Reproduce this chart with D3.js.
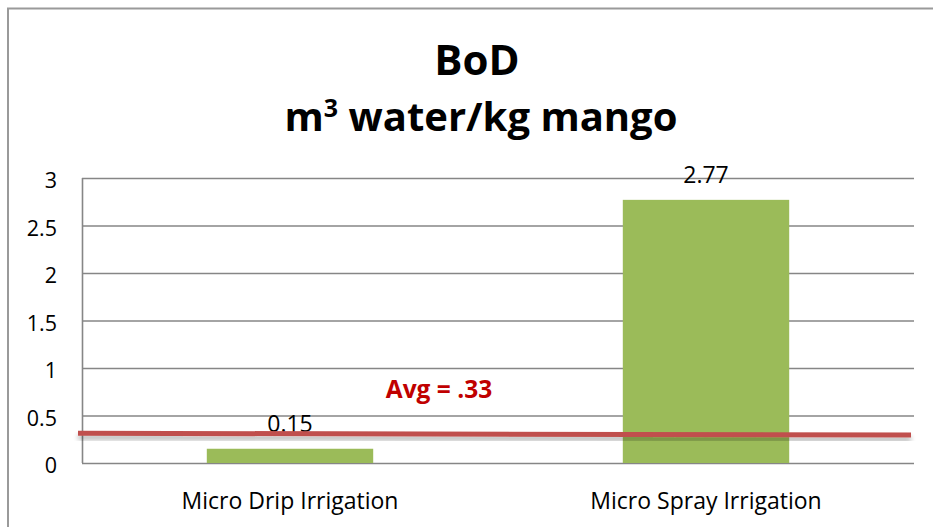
<!DOCTYPE html>
<html>
<head>
<meta charset="utf-8">
<script src="https://cdn.jsdelivr.net/npm/d3@7"></script>
<style>
  html, body { margin: 0; padding: 0; background: #fff; }
  svg { display: block; font-family: "Open Sans", "Liberation Sans", sans-serif; }
</style>
</head>
<body>
<svg id="chart" width="933" height="527"></svg>
<script>
// ---- data ----
const categories = ["Micro Drip Irrigation", "Micro Spray Irrigation"];
const values = [0.15, 2.77];
const valueLabels = ["0.15", "2.77"];
const yTicks = [0, 0.5, 1, 1.5, 2, 2.5, 3];
const yTickLabels = ["0", "0.5", "1", "1.5", "2", "2.5", "3"];
const avgLabel = "Avg = .33";
const avgLineValues = [0.313, 0.295]; // hand-drawn line: left end, right end
const titleLines = ["BoD", "water/kg mango"];

// ---- layout ----
const W = 933, H = 527;
const plot = { left: 82, right: 914, top: 178, bottom: 463 };

const svg = d3.select("#chart");

const x = d3.scaleBand()
  .domain(categories)
  .range([plot.left, plot.right])
  .paddingInner(0.6)
  .paddingOuter(0.3);

const y = d3.scaleLinear()
  .domain([0, 3])
  .range([plot.bottom, plot.top]);

// drop shadow filter for avg line
const defs = svg.append("defs");
const f = defs.append("filter").attr("id", "shadow")
  .attr("x", "-5%").attr("y", "-300%").attr("width", "110%").attr("height", "700%");
f.append("feGaussianBlur").attr("in", "SourceAlpha").attr("stdDeviation", 2.8).attr("result", "b");
f.append("feOffset").attr("in", "b").attr("dx", 0).attr("dy", 4).attr("result", "o");
f.append("feComponentTransfer").attr("in", "o").attr("result", "o2")
  .append("feFuncA").attr("type", "linear").attr("slope", 0.3);
const m = f.append("feMerge");
m.append("feMergeNode").attr("in", "o2");
m.append("feMergeNode").attr("in", "SourceGraphic");

// outer border (extends beyond right/bottom edges)
svg.append("rect")
  .attr("x", 8).attr("y", 8.5)
  .attr("width", W + 20).attr("height", H + 20)
  .attr("fill", "none")
  .attr("stroke", "#9a9a9a")
  .attr("stroke-width", 2);

// title
const title = svg.append("text")
  .attr("text-anchor", "middle")
  .attr("font-weight", "bold")
  .attr("font-size", 40)
  .attr("fill", "#000");
title.append("tspan").attr("x", 477).attr("y", 75).attr("font-size", 42).text(titleLines[0]);
const t2 = title.append("tspan").attr("x", 481).attr("y", 131);
t2.text("m");
title.append("tspan").attr("font-size", 25).attr("dy", -14).text("3");
title.append("tspan").attr("dy", 14).text(" " + titleLines[1]);

// gridlines via axis
const yAxis = d3.axisLeft(y)
  .tickValues(yTicks)
  .tickSize(-(plot.right - plot.left))
  .tickFormat((d, i) => yTickLabels[i]);

const gy = svg.append("g")
  .attr("transform", `translate(${plot.left},0)`)
  .call(yAxis);
gy.select(".domain").attr("stroke", "#868686").attr("stroke-width", 1.6)
  .attr("d", `M0.5,${plot.top}V${plot.bottom}`);
gy.selectAll(".tick line").attr("stroke", "#868686").attr("stroke-width", 1.6);
gy.selectAll(".tick text")
  .attr("x", -25)
  .attr("dy", "0.45em")
  .attr("font-size", 21.5)
  .attr("fill", "#000")
  .attr("font-family", "'Open Sans', sans-serif");

// bars
svg.append("g").selectAll("rect")
  .data(values)
  .join("rect")
  .attr("x", (d, i) => x(categories[i]))
  .attr("y", d => y(d))
  .attr("width", x.bandwidth())
  .attr("height", d => y(0) - y(d))
  .attr("fill", "#9bbb59");

// value labels
svg.append("g").selectAll("text")
  .data(values)
  .join("text")
  .attr("x", (d, i) => x(categories[i]) + x.bandwidth() / 2)
  .attr("y", d => y(d) - 17)
  .attr("text-anchor", "middle")
  .attr("font-size", 23)
  .attr("fill", "#000")
  .text((d, i) => valueLabels[i]);

// x axis category labels
const xAxis = d3.axisBottom(x).tickSize(0).tickPadding(0);
const gx = svg.append("g")
  .attr("transform", `translate(0,${plot.bottom})`)
  .call(xAxis);
gx.select(".domain").remove();
gx.selectAll(".tick text")
  .attr("y", 46)
  .attr("dy", 0)
  .attr("font-size", 23)
  .attr("fill", "#000")
  .attr("font-family", "'Open Sans', sans-serif");

// average line (hand-drawn, with shadow)
svg.append("line")
  .attr("x1", plot.left - 4)
  .attr("x2", plot.right - 3)
  .attr("y1", y(avgLineValues[0]))
  .attr("y2", y(avgLineValues[1]))
  .attr("stroke", "#c0504d")
  .attr("stroke-width", 5)
  .attr("filter", "url(#shadow)");

// average label
svg.append("text")
  .attr("x", 439)
  .attr("y", 398)
  .attr("text-anchor", "middle")
  .attr("font-weight", "bold")
  .attr("font-size", 24.5)
  .attr("fill", "#c00000")
  .text(avgLabel);
</script>
</body>
</html>
